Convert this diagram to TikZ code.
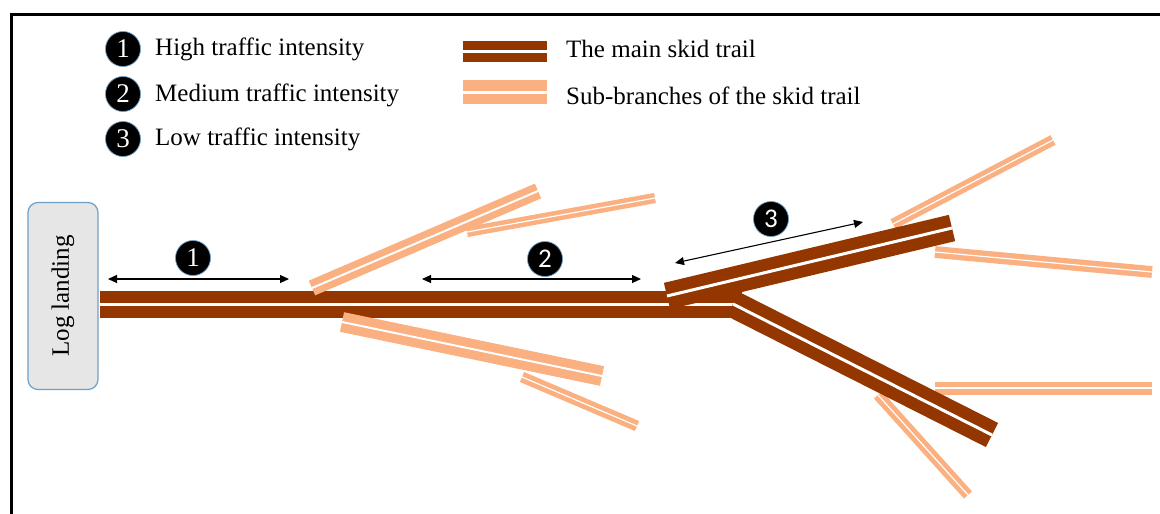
\documentclass[tikz,border=0pt]{standalone}
\usepackage{fontspec}
\setmainfont{Liberation Serif}
\newfontfamily\spanfont{Carlito}
\usetikzlibrary{arrows.meta}
\definecolor{trailbrown}{RGB}{148,54,0}
\definecolor{subor}{RGB}{250,176,128}
\definecolor{landfill}{RGB}{230,230,230}
\definecolor{landedge}{RGB}{110,160,200}
\begin{document}
\begin{tikzpicture}[x=1pt,y=-1pt,
  maintrail/.style={draw=trailbrown, line width=12pt, double=white, double distance=3pt},
  subtrail/.style={draw=subor, double=white},
  numcirc/.style={circle, fill=black, draw=landedge, line width=0.7pt, text=white, inner sep=0pt, minimum size=35pt, font=\fontsize{27}{27}\selectfont},
  legtext/.style={anchor=west, inner sep=0pt, font=\fontsize{25}{29}\selectfont},
  span/.style={{Triangle[width=8pt,length=9pt]}-{Triangle[width=8pt,length=9pt]}, line width=1.1pt},
  landing/.style={draw=landedge, line width=1.2pt, fill=landfill, rounded corners=10pt, minimum width=70pt, minimum height=187pt, inner sep=0pt}
]
\useasboundingbox (0,0) rectangle (1160,514);
\fill[white] (0,0) rectangle (1160,514);
% frame
\draw[line width=3pt] (11,530) -- (11,14) -- (1175,14);

% legend
\node[numcirc] (l1) at (123,49) {1};
\node[legtext] (t1) at (155,49) {High traffic intensity};
\node[numcirc] (l2) at (123,94) {2};
\node[legtext] (t2) at (155,95) {Medium traffic intensity};
\node[numcirc] (l3) at (123,139) {3};
\node[legtext] (t3) at (155,139) {Low traffic intensity};
\coordinate (lm1) at (463,51.5); \coordinate (lm2) at (547,51.5);
\coordinate (ls1) at (463,92); \coordinate (ls2) at (547,92);
\draw[maintrail, line width=9.5pt, double distance=2.5pt] (lm1) -- (lm2);
\draw[subtrail, line width=10.5pt, double distance=3pt] (ls1) -- (ls2);
\node[legtext] (t4) at (566,49) {The main skid trail};
\node[legtext] (t5) at (566,96) {Sub-branches of the skid trail};

% log landing
\node[landing] (land) at (63,296) {};
\node[rotate=90, font=\fontsize{25}{29}\selectfont] (landt) at (63,296) {Log landing};

% main trail
\coordinate (m0) at (100,304);
\coordinate (m1) at (742,304);
\draw[maintrail] (m0) -- (m1);

% sub-branches along the main trail
\coordinate (s1a) at (312,288); \coordinate (s1b) at (538,191);
\coordinate (s2a) at (467,232); \coordinate (s2b) at (655,198);
\coordinate (s3a) at (342,322); \coordinate (s3b) at (602,376);
\coordinate (s4a) at (522,377); \coordinate (s4b) at (637,426);
\draw[subtrail, line width=7pt, double distance=2pt] (s1a) -- (s1b);
\draw[subtrail, line width=4.5pt, double distance=1.2pt] (s2a) -- (s2b);
\draw[subtrail, line width=9pt, double distance=2pt] (s3a) -- (s3b);
\draw[subtrail, line width=4.8pt, double distance=1.2pt] (s4a) -- (s4b);

% sub-branches near the fork
\coordinate (s5a) at (893,224); \coordinate (s5b) at (1053,140);
\coordinate (s6a) at (935,252); \coordinate (s6b) at (1152,272);
\coordinate (s7a) at (935,388); \coordinate (s7b) at (1152,388);
\coordinate (s8a) at (878,395); \coordinate (s8b) at (968,495);
\draw[subtrail, line width=4.8pt, double distance=1.2pt] (s5a) -- (s5b);
\draw[subtrail, line width=5.3pt, double distance=1.2pt] (s6a) -- (s6b);
\draw[subtrail, line width=5.8pt, double distance=1.4pt] (s7a) -- (s7b);
\draw[subtrail, line width=4.8pt, double distance=1.2pt] (s8a) -- (s8b);

% fork of the main trail
\coordinate (u0) at (667,296); \coordinate (u1) at (952,228);
\coordinate (d0) at (733,304); \coordinate (d1) at (992,435);
\draw[maintrail] (d0) -- (d1);
\draw[maintrail] (u0) -- (u1);

% spans
\coordinate (a1s) at (108,279); \coordinate (a1e) at (289,279);
\coordinate (a2s) at (422,279); \coordinate (a2e) at (641,279);
\coordinate (a3s) at (675,263); \coordinate (a3e) at (863,222);
\draw[span] (a1s) -- (a1e);
\draw[span] (a2s) -- (a2e);
\draw[span] (a3s) -- (a3e);
\node[numcirc] (n1) at (193,258) {1};
\node[numcirc, font=\spanfont\fontsize{27}{27}\selectfont] (n2) at (545,259) {2};
\node[numcirc, font=\spanfont\fontsize{27}{27}\selectfont] (n3) at (771,219) {3};
\end{tikzpicture}
\end{document}
